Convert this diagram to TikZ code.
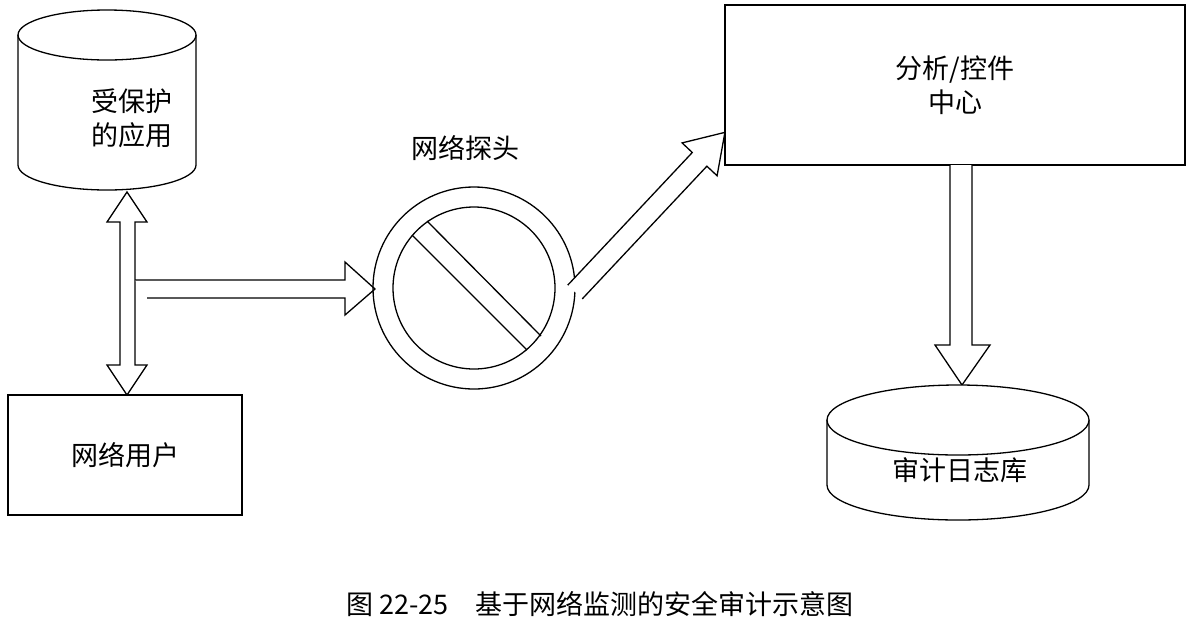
\documentclass[tikz,border=0pt]{standalone}
\usepackage{fontspec}
\newfontfamily\cjk{Noto Sans CJK SC}
\begin{document}
\begin{tikzpicture}[x=1pt,y=-1pt,line width=1.3pt,
  lbl/.style={font=\cjk\fontsize{27}{34}\selectfont,align=center,inner sep=0pt},
  hollow/.style={draw,fill=white,line join=miter}]
\useasboundingbox (0,0) rectangle (1204,633);
% protected app cylinder
\draw (18,35) -- (18,165) arc[start angle=180,end angle=0,x radius=89,y radius=25] -- (196,35);
\draw (107,35) ellipse[x radius=89,y radius=25];
\node[lbl] (app) at (132,118) {受保护\\的应用};
% user box
\node[draw,minimum width=234pt,minimum height=120pt] (user) at (125,455) {};
\node[lbl] at (user) {网络用户};
% vertical double arrow
\draw[hollow] (127,192) -- (147,222) -- (135,222) -- (135,365) -- (147,365) -- (127,395) -- (107,365) -- (120,365) -- (120,222) -- (107,222) -- cycle;
% horizontal arrow
\draw[hollow] (135,280) -- (345,280) -- (345,262) -- (375,289) -- (345,315) -- (345,298) -- (147,298);
% probe
\coordinate (probe) at (474,288);
\draw (probe) circle[radius=101];
\draw (probe) circle[radius=81];
\draw (412,235) -- (527,350);
\draw (427,221) -- (541,336);
\node[lbl] (probelbl) at (465,148) {网络探头};
% diagonal arrow
\begin{scope}[shift={(575,292)},rotate=46.8]
\draw[hollow] (0,-10) -- (182,-10) -- (182,-24) -- (219,0) -- (182,24) -- (182,10) -- (0,10);
\end{scope}
% analysis center
\node[draw,minimum width=460pt,minimum height=160pt] (ctr) at (955,85) {};
\node[lbl] at (ctr) {分析/控件\\中心};
% down arrow
\draw[hollow] (950,165) -- (950,345) -- (935,345) -- (962,385) -- (990,345) -- (972,345) -- (972,165);
% log db cylinder
\draw[fill=white] (827,420) -- (827,485) arc[start angle=180,end angle=0,x radius=131,y radius=35] -- (1089,420);
\draw[fill=white] (958,420) ellipse[x radius=131,y radius=35];
\node[lbl] (log) at (960,470) {审计日志库};
% caption
\node[lbl] (cap) at (600,604) {图 22-25\quad 基于网络监测的安全审计示意图};
\end{tikzpicture}
\end{document}
